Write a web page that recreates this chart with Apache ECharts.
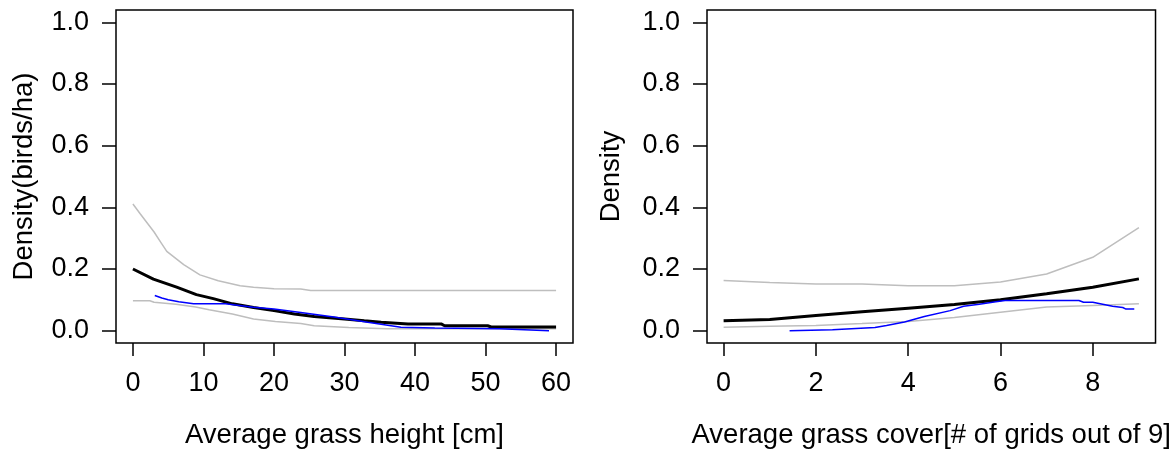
<!DOCTYPE html>
<html>
<head>
<meta charset="utf-8">
<script src="https://cdn.jsdelivr.net/npm/echarts@6/dist/echarts.min.js"></script>
<style>
html,body{margin:0;padding:0;background:#fff;}
#c{width:1174px;height:454px;}
</style>
</head>
<body>
<div id="c"></div>
<script>
// ---- Data ----
// Left panel: Average grass height [cm]
const heightUpperX = [0, 1, 2, 3, 4, 4.8, 7.2, 9.5, 12.1, 15.2, 17.1, 20, 23.8, 25.2, 30, 40, 50, 60];
const heightUpperY = [0.411, 0.38, 0.35, 0.32, 0.285, 0.257, 0.214, 0.181, 0.162, 0.146, 0.141, 0.136, 0.135, 0.130, 0.130, 0.130, 0.130, 0.130];
const heightLowerX = [0, 2.4, 3, 6.1, 8.9, 10.8, 14.1, 17.1, 20.2, 23.8, 25.7, 30.6, 36, 60];
const heightLowerY = [0.097, 0.097, 0.092, 0.086, 0.077, 0.068, 0.054, 0.038, 0.030, 0.023, 0.016, 0.010, 0.006, 0.006];
const heightFitX = [0, 2.9, 6.2, 9, 11.4, 14.1, 17.1, 20, 22.9, 25.7, 30, 32.8, 35.2, 39, 43.7, 44.2, 50.3, 50.8, 60];
const heightFitY = [0.200, 0.167, 0.141, 0.117, 0.104, 0.087, 0.075, 0.065, 0.054, 0.046, 0.038, 0.032, 0.027, 0.022, 0.022, 0.016, 0.016, 0.012, 0.012];
const heightObsX = [3.1, 3.6, 4.1, 5, 6.5, 8.6, 13.1, 13.3, 17.1, 20, 23.8, 28.5, 33.3, 38, 42.8, 52, 59];
const heightObsY = [0.114, 0.110, 0.106, 0.100, 0.094, 0.087, 0.087, 0.081, 0.076, 0.070, 0.059, 0.044, 0.027, 0.011, 0.009, 0.006, 0.0];

// Right panel: Average grass cover
const coverX = [0, 1, 2, 3, 4, 5, 6, 7, 8, 9];
const coverUpperY = [0.163, 0.156, 0.151, 0.151, 0.146, 0.146, 0.158, 0.184, 0.238, 0.334];
const coverFitY = [0.032, 0.036, 0.049, 0.061, 0.073, 0.085, 0.100, 0.120, 0.141, 0.168];
const coverLowerY = [0.011, 0.014, 0.017, 0.023, 0.030, 0.043, 0.060, 0.077, 0.082, 0.087];
const coverObsX = [1.43, 2.36, 3.28, 3.53, 3.92, 4.35, 4.91, 5.2, 5.54, 5.9, 6.1, 7.7, 7.8, 8.0, 8.43, 8.65, 8.72, 8.9];
const coverObsY = [0, 0.003, 0.010, 0.017, 0.028, 0.046, 0.065, 0.079, 0.086, 0.094, 0.098, 0.098, 0.092, 0.092, 0.079, 0.075, 0.070, 0.070];

// Tick labels
const yTicks = [0, 0.2, 0.4, 0.6, 0.8, 1.0];
const heightTicks = [0, 10, 20, 30, 40, 50, 60];
const coverTicks = [0, 2, 4, 6, 8];

const leftYName = 'Density(birds/ha)';
const rightYName = 'Density';
const leftXName = 'Average grass height [cm]';
const rightXName = 'Average grass cover[# of grids out of 9]';

// ---- Build ----
function pairs(xs, ys) { return xs.map((x, i) => [x, ys[i]]); }
const FONT = 'Liberation Sans, Arial, sans-serif';
const FS = 27;
const NFS = 27.5;

function xAxisCfg(gi, min, max, ticks, name) {
  return {
    type: 'value', gridIndex: gi, min: min, max: max, position: 'bottom',
    name: name, nameLocation: 'middle', nameGap: 78,
    nameTextStyle: { fontFamily: FONT, fontSize: NFS, color: '#000' },
    axisLine: { show: false, onZero: false },
    splitLine: { show: false },
    axisTick: { show: true, inside: false, length: 13, customValues: ticks,
                lineStyle: { color: '#000', width: 1.5 } },
    axisLabel: { show: true, customValues: ticks, margin: 27,
                 fontFamily: FONT, fontSize: FS, color: '#000',
                 formatter: v => String(v) }
  };
}
function yAxisCfg(gi, name, gap) {
  return {
    type: 'value', gridIndex: gi, min: -0.04, max: 1.04, position: 'left',
    name: name, nameLocation: 'middle', nameGap: gap,
    nameTextStyle: { fontFamily: FONT, fontSize: NFS, color: '#000' },
    axisLine: { show: false, onZero: false },
    splitLine: { show: false },
    axisTick: { show: true, inside: false, length: 14, customValues: yTicks,
                lineStyle: { color: '#000', width: 1.5 } },
    axisLabel: { show: true, customValues: yTicks, margin: 27,
                 fontFamily: FONT, fontSize: FS, color: '#000',
                 formatter: v => v.toFixed(1) }
  };
}
function line(gi, data, color, width) {
  return {
    type: 'line', xAxisIndex: gi, yAxisIndex: gi, data: data,
    showSymbol: false, symbol: 'none', smooth: false, silent: true,
    lineStyle: { color: color, width: width }, animation: false
  };
}

const GRAY = '#BEBEBE';
const chart = echarts.init(document.getElementById('c'), null, { renderer: 'canvas' });
chart.setOption({
  animation: false,
  backgroundColor: '#fff',
  grid: [
    { left: 116, top: 10, width: 457, height: 333, show: true, borderColor: '#000', borderWidth: 1.5, backgroundColor: 'transparent' },
    { left: 707, top: 10, width: 456, height: 333, show: true, borderColor: '#000', borderWidth: 1.5, backgroundColor: 'transparent' }
  ],
  xAxis: [
    xAxisCfg(0, -2.4, 62.4, heightTicks, leftXName),
    xAxisCfg(1, -0.36, 9.36, coverTicks, rightXName)
  ],
  yAxis: [
    yAxisCfg(0, leftYName, 78),
    yAxisCfg(1, rightYName, 82)
  ],
  series: [
    line(0, pairs(heightUpperX, heightUpperY), GRAY, 1.5),
    line(0, pairs(heightLowerX, heightLowerY), GRAY, 1.5),
    line(0, pairs(heightFitX, heightFitY), '#000', 3),
    line(0, pairs(heightObsX, heightObsY), '#0000FF', 1.5),
    line(1, pairs(coverX, coverUpperY), GRAY, 1.5),
    line(1, pairs(coverX, coverLowerY), GRAY, 1.5),
    line(1, pairs(coverX, coverFitY), '#000', 3),
    line(1, pairs(coverObsX, coverObsY), '#0000FF', 1.5)
  ]
});
</script>
</body>
</html>
